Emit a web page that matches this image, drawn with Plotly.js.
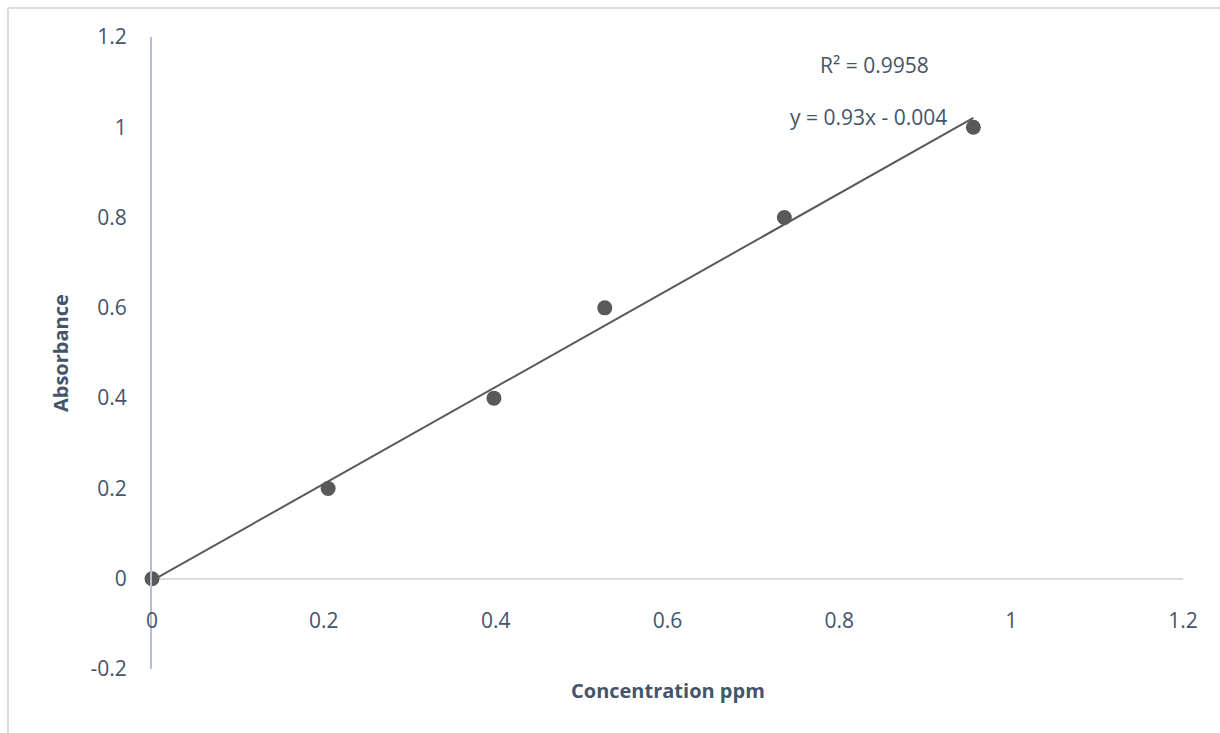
<!DOCTYPE html>
<html>
<head>
<meta charset="utf-8">
<script src="https://cdn.plot.ly/plotly-3.0.1.min.js"></script>
<style>html,body{margin:0;padding:0;background:#fff;}#chart{width:1220px;height:733px;}</style>
</head>
<body>
<div id="chart"></div>
<script>
// Data
var concentration = [0, 0.205, 0.398, 0.527, 0.736, 0.956];
var absorbance    = [0, 0.2, 0.4, 0.6, 0.8, 1.0];
var xTicks = [0, 0.2, 0.4, 0.6, 0.8, 1, 1.2];
var yTicks = [-0.2, 0, 0.2, 0.4, 0.6, 0.8, 1, 1.2];
var xTitle = 'Concentration ppm';
var yTitle = 'Absorbance';
var r2Label = 'R² = 0.9958';
var eqLabel = 'y = 0.93x - 0.004';

// Linear least-squares trendline (as drawn in the chart)
var n = concentration.length, mx = 0, my = 0;
for (var i = 0; i < n; i++) { mx += concentration[i]; my += absorbance[i]; }
mx /= n; my /= n;
var sxy = 0, sxx = 0;
for (var i = 0; i < n; i++) { sxy += (concentration[i]-mx)*(absorbance[i]-my); sxx += (concentration[i]-mx)*(concentration[i]-mx); }
var slope = sxy/sxx, icpt = my - slope*mx;
var trendX = [Math.min.apply(null, concentration), Math.max.apply(null, concentration)];
var trendY = trendX.map(function(x){ return slope*x + icpt; });

var txt = '#44546a';
var fontR = 'Open Sans, Liberation Sans, sans-serif';

var traces = [
  {x: trendX, y: trendY, mode: 'lines', line: {color: '#595959', width: 2}, hoverinfo: 'skip', showlegend: false, cliponaxis: false},
  {x: concentration, y: absorbance, mode: 'markers', marker: {color: '#595959', size: 15}, showlegend: false, cliponaxis: false}
];

var layout = {
  width: 1220, height: 733,
  margin: {l: 152, r: 37, t: 37, b: 64},
  paper_bgcolor: '#fff', plot_bgcolor: '#fff',
  showlegend: false,
  font: {family: fontR, color: txt, size: 21},
  xaxis: {
    range: [0, 1.2], tickvals: xTicks, ticktext: xTicks.map(String),
    anchor: 'free', position: 0.1,
    showgrid: false, zeroline: false, showline: false, ticks: '',
    tickfont: {family: fontR, color: txt, size: 21}, fixedrange: true
  },
  yaxis: {
    range: [-0.2, 1.2], tickvals: yTicks, ticktext: yTicks.map(String),
    showgrid: false, zeroline: true, zerolinecolor: '#d9dde3', zerolinewidth: 2,
    showline: true, linecolor: '#b4bfcf', linewidth: 2, ticks: '',
    ticklabelstandoff: 19,
    tickfont: {family: fontR, color: txt, size: 21}, fixedrange: true
  },
  annotations: [
    {xref: 'paper', yref: 'paper', x: -0.0892, y: 0.5, text: '<b>' + yTitle + '</b>', textangle: -90,
     showarrow: false, xanchor: 'center', yanchor: 'middle', font: {family: fontR, color: txt, size: 20}},
    {xref: 'paper', yref: 'paper', x: 0.5, y: -0.0348, text: '<b>' + xTitle + '</b>',
     showarrow: false, xanchor: 'center', yanchor: 'middle', font: {family: fontR, color: txt, size: 20}},
    {xref: 'x', yref: 'y', x: 0.8415, y: 1.137, text: r2Label, showarrow: false,
     xanchor: 'center', yanchor: 'middle', font: {family: fontR, color: txt, size: 21}},
    {xref: 'x', yref: 'y', x: 0.8345, y: 1.022, text: eqLabel, showarrow: false,
     xanchor: 'center', yanchor: 'middle', font: {family: fontR, color: txt, size: 21}}
  ],
  shapes: [
    {type: 'line', xref: 'paper', yref: 'paper', x0: -0.1397, x1: 1.2, y0: 1.0459, y1: 1.0459, line: {color: '#d9dde3', width: 2}},
    {type: 'line', xref: 'paper', yref: 'paper', x0: -0.1397, x1: -0.1397, y0: 1.0459, y1: -0.2, line: {color: '#d9dde3', width: 2}}
  ],
  hovermode: false
};

Plotly.newPlot('chart', traces, layout, {displayModeBar: false, staticPlot: true});
</script>
</body>
</html>
